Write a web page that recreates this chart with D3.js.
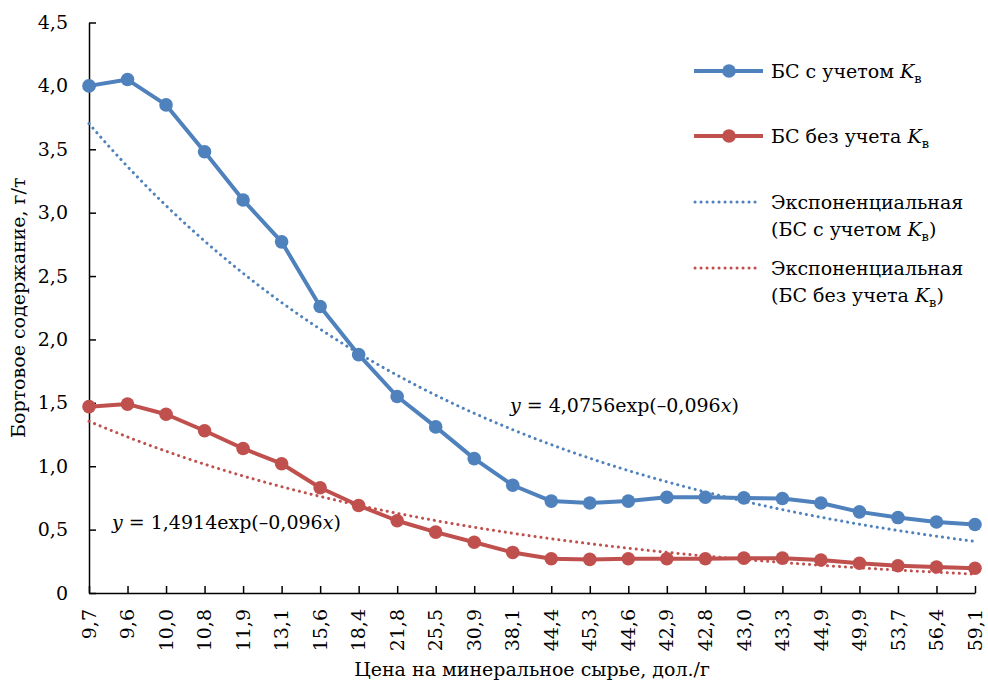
<!DOCTYPE html>
<html>
<head>
    <meta charset="utf-8" />
    <title></title>
    <style>
    body {
        margin: 0;
        background: #fff;
    }
    </style>
</head>

<body>
<div id="container"></div>
<script src="https://cdn.jsdelivr.net/npm/d3@7/dist/d3.min.js"></script>
<script>
// цена на минеральное сырье, дол./г (категории оси X)
var prices = ["9,7", "9,6", "10,0", "10,8", "11,9", "13,1", "15,6", "18,4", "21,8", "25,5", "30,9", "38,1",
    "44,4", "45,3", "44,6", "42,9", "42,8", "43,0", "43,3", "44,9", "49,9", "53,7", "56,4", "59,1"]

// БС с учетом Kв
var withKv = [4.00, 4.05, 3.85, 3.48, 3.10, 2.77, 2.26, 1.88, 1.55, 1.31, 1.06, 0.85,
    0.725, 0.71, 0.725, 0.755, 0.755, 0.75, 0.745, 0.71, 0.64, 0.595, 0.56, 0.54]

// БС без учета Kв
var withoutKv = [1.47, 1.49, 1.41, 1.28, 1.14, 1.02, 0.83, 0.69, 0.57, 0.48, 0.40, 0.32,
    0.27, 0.265, 0.27, 0.27, 0.27, 0.275, 0.275, 0.26, 0.235, 0.215, 0.205, 0.195]

// коэффициенты экспоненциальных трендов y = a*exp(b*x)
var trendA = [4.0756, 1.4914]
var trendB = [-0.096, -0.096]
var trendLabels = ["y = 4,0756exp(–0,096x)", "y = 1,4914exp(–0,096x)"]

var yTicks = [0, 0.5, 1, 1.5, 2, 2.5, 3, 3.5, 4, 4.5]

var width = 988,
    height = 683,
    margin = { left: 89, top: 22.5, right: 13, bottom: 90 },
    blue = "#4f81bd",
    red = "#c0504d",
    FONT = "DejaVu Serif"

var svg = d3.select("#container")
    .append("svg")
    .attr("width", width)
    .attr("height", height)
    .style("font-family", FONT)
    .style("font-size", "19px")

var scale_x = d3.scalePoint()
    .domain(d3.range(prices.length))
    .range([margin.left, width - margin.right])

// для линий тренда: x = номер точки (1..24)
var scale_xn = d3.scaleLinear()
    .domain([1, prices.length])
    .range([margin.left, width - margin.right])

var scale_y = d3.scaleLinear()
    .domain([0, 4.5])
    .range([height - margin.bottom, margin.top])

var ru = d3.formatLocale({ decimal: ",", thousands: " ", grouping: [3], currency: ["", ""] })
var fmt = ru.format(".1f")

// оси
var y_axis = d3.axisLeft(scale_y)
    .tickValues(yTicks)
    .tickSizeInner(-7)
    .tickSizeOuter(0)
    .tickPadding(21)
    .tickFormat(d => d === 0 ? "0" : fmt(d))

var gy = svg.append("g")
    .attr("transform", "translate(" + margin.left + ",0)")
    .call(y_axis)
    .attr("font-family", null)
    .attr("font-size", null)
gy.selectAll("text").attr("fill", "#000")

var x_axis = d3.axisBottom(scale_x)
    .tickSizeInner(-7)
    .tickSizeOuter(0)
    .tickFormat("")

var gx = svg.append("g")
    .attr("transform", "translate(0," + (height - margin.bottom) + ")")
    .call(x_axis)

svg.selectAll(".domain, .tick line")
    .attr("stroke", "#000")
    .attr("stroke-width", 1.5)

svg.append("g")
    .selectAll("text")
    .data(prices)
    .enter()
    .append("text")
    .attr("transform", (d, i) => "translate(" + scale_x(i) + "," + (height - margin.bottom + 16) + ") rotate(-90)")
    .attr("text-anchor", "end")
    .attr("dy", "0.35em")
    .text(d => d)

// подписи осей
svg.append("text")
    .attr("transform", "translate(25," + ((scale_y(0) + scale_y(4.5)) / 2) + ") rotate(-90)")
    .attr("text-anchor", "middle")
    .text("Бортовое содержание, г/т")

svg.append("text")
    .attr("x", (margin.left + width - margin.right) / 2)
    .attr("y", 676)
    .attr("text-anchor", "middle")
    .text("Цена на минеральное сырье, дол./г")

// линии тренда (пунктир)
var nSteps = d3.range(1, prices.length + 0.001, 0.25)
var trend_gen = d3.line()
    .x(d => scale_xn(d[0]))
    .y(d => scale_y(d[1]))

;[blue, red].forEach(function(c, k) {
    svg.append("path")
        .attr("d", trend_gen(nSteps.map(n => [n, trendA[k] * Math.exp(trendB[k] * n)])))
        .attr("fill", "none")
        .attr("stroke", c)
        .attr("stroke-width", 3)
        .attr("stroke-linecap", "round")
        .attr("stroke-dasharray", "0.1,5.9")
})

// ряды данных
var line_generator = d3.line()
    .x((d, i) => scale_x(i))
    .y(d => scale_y(d))

;[[withKv, blue], [withoutKv, red]].forEach(function(s) {
    svg.append("path")
        .attr("d", line_generator(s[0]))
        .attr("fill", "none")
        .attr("stroke", s[1])
        .attr("stroke-width", 4)
        .attr("stroke-linejoin", "round")
    svg.append("g")
        .selectAll("circle")
        .data(s[0])
        .enter()
        .append("circle")
        .attr("cx", (d, i) => scale_x(i))
        .attr("cy", d => scale_y(d))
        .attr("r", 6.8)
        .attr("fill", s[1])
})

// уравнения трендов
function equation(x, y, label) {
    var t = svg.append("text").attr("x", x).attr("y", y)
    var m = label.match(/^y( = .*\(–[\d,]+)x\)$/)
    t.append("tspan").attr("font-style", "italic").text("y")
    t.append("tspan").text(m[1])
    t.append("tspan").attr("font-style", "italic").text("x")
    t.append("tspan").text(")")
}
equation(510, 412, trendLabels[0])
equation(112, 529, trendLabels[1])

// легенда
var legend = [
    { lines: ["БС с учетом "], c: blue, dot: false, y: 71 },
    { lines: ["БС без учета "], c: red, dot: false, y: 136 },
    { lines: ["Экспоненциальная", "(БС с учетом "], c: blue, dot: true, y: 202, close: true },
    { lines: ["Экспоненциальная", "(БС без учета "], c: red, dot: true, y: 268, close: true }
]

legend.forEach(function(l) {
    var g = svg.append("g")
    if (l.dot) {
        g.append("line")
            .attr("x1", 695).attr("x2", 761)
            .attr("y1", l.y).attr("y2", l.y)
            .attr("stroke", l.c)
            .attr("stroke-width", 3)
            .attr("stroke-linecap", "round")
            .attr("stroke-dasharray", "0.1,5.9")
    } else {
        g.append("line")
            .attr("x1", 694).attr("x2", 763)
            .attr("y1", l.y).attr("y2", l.y)
            .attr("stroke", l.c)
            .attr("stroke-width", 4)
        g.append("circle")
            .attr("cx", 729).attr("cy", l.y).attr("r", 6.8)
            .attr("fill", l.c)
    }
    l.lines.forEach(function(s, j) {
        var t = g.append("text")
            .attr("x", 771)
            .attr("y", l.y + 7 + j * 27)
            .text(s)
        if (j === l.lines.length - 1) {
            t.append("tspan").attr("font-style", "italic").text("K")
            t.append("tspan").attr("font-size", 13).attr("dy", 5).text("в")
            if (l.close) t.append("tspan").attr("dy", -5).text(")")
        }
    })
})
</script>
</body>
</html>
